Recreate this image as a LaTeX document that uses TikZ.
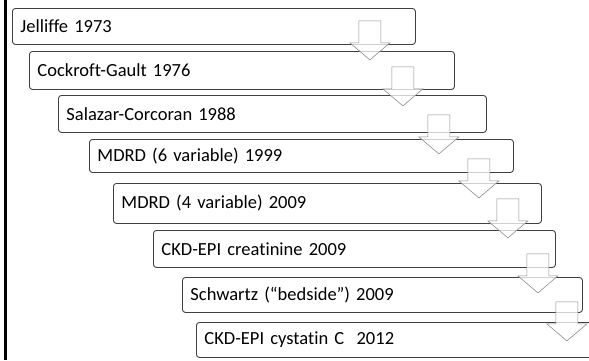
\documentclass[tikz,border=0pt]{standalone}
\usepackage{fontspec}
\setmainfont{Carlito}[Ligatures={TeX,NoCommon}]
\usetikzlibrary{calc}

\begin{document}
\begin{tikzpicture}[x=1pt, y=-1pt,
        every node/.style={font=\fontsize{18.5}{22}\selectfont},
        stepbox/.style 2 args={draw=black!75, line width=0.9pt, rounded corners=3pt,
            anchor=north west, inner xsep=8pt, inner ysep=0pt, align=left,
            text width=#1pt-16pt, minimum height=#2pt},
        blockarrow/.style={draw=black!45, line width=0.6pt, fill=white, fill opacity=0.75}
    ]
    \useasboundingbox (0,0) rectangle (589,360);
    \clip (0,0) rectangle (589,360);
    \draw[line width=2.5pt] (5.5,0) -- (5.5,360);

    \node[stepbox={403}{36}] (b1) at (12,8)   {Jelliffe 1973};
    \node[stepbox={425}{38}] (b2) at (29,51)  {Cockroft-Gault 1976};
    \node[stepbox={428}{37}] (b3) at (58,95)  {Salazar-Corcoran 1988};
    \node[stepbox={424}{33}] (b4) at (89,139) {MDRD (6 variable) 1999};
    \node[stepbox={428}{40}] (b5) at (113,183) {MDRD (4 variable) 2009};
    \node[stepbox={402}{37}] (b6) at (153,230) {CKD-EPI creatinine 2009};
    \node[stepbox={400}{35}] (b7) at (182,277) {Schwartz (``bedside'') 2009};
    \node[stepbox={404}{35}] (b8) at (196,322) {CKD-EPI cystatin C\ \ 2012};

    % down arrows between the steps
    \foreach \b/\dx/\dy in {b1/-46/15, b2/-52/16, b3/-48/21, b4/-35/25,
                            b5/-34/14, b6/-18/25, b7/-16/28}
        \draw[blockarrow] ($(\b.south east)+(\dx,\dy)$) -- ++(-20,-17) -- ++(9,0)
            -- ++(0,-22) -- ++(22,0) -- ++(0,22) -- ++(9,0) -- cycle;
\end{tikzpicture}
\end{document}
